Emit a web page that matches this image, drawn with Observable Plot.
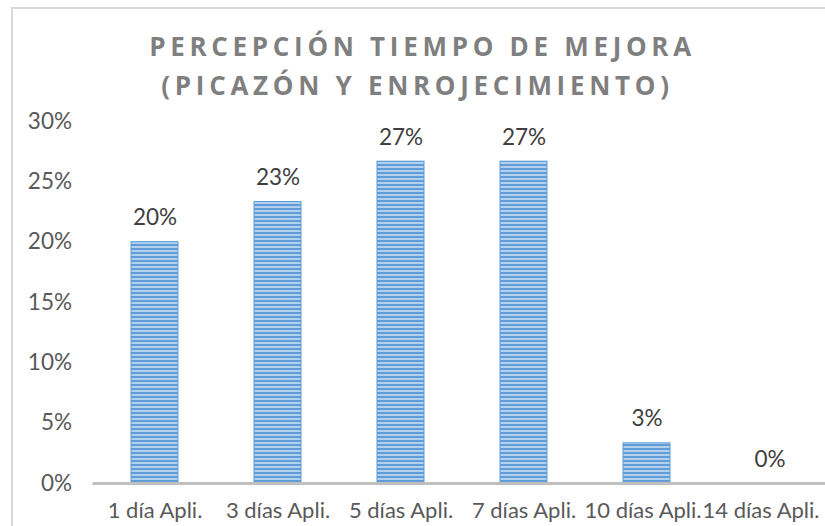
<!DOCTYPE html>
<html>
<head>
<meta charset="utf-8">
<script src="https://cdn.jsdelivr.net/npm/d3@7"></script>
<script src="https://cdn.jsdelivr.net/npm/@observablehq/plot@0.6"></script>
<style>
  html, body { margin: 0; padding: 0; background: #fff; }
  #wrap { position: relative; width: 825px; height: 526px; overflow: hidden; background: #fff; }
  #frame { position: absolute; left: 11px; top: 7px; width: 900px; height: 600px; border-left: 2px solid #d9d9d9; border-top: 2px solid #d9d9d9; box-sizing: border-box; }
  .title { position: absolute; left: 0; width: 845px; text-align: center; font-family: "Open Sans", sans-serif; font-weight: bold; font-size: 26px; line-height: 26px; letter-spacing: 4.7px; color: #7f7f7f; white-space: nowrap; }
  #chart { position: absolute; left: 0; top: 0; }
  #chart svg { max-width: none !important; }
</style>
</head>
<body>
<div id="wrap">
  <div id="frame"></div>
  <div class="title" style="top:33px">PERCEPCIÓN TIEMPO DE MEJORA</div>
  <div class="title" style="top:72px; width:835px">(PICAZÓN Y ENROJECIMIENTO)</div>
  <div id="chart"></div>
</div>
<script>
const categories = ["1 día Apli.", "3 días Apli.", "5 días Apli.", "7 días Apli.", "10 días Apli.", "14 días Apli."];
const values = [0.20, 0.2333, 0.2667, 0.2667, 0.0333, 0.0];
const yTicks = [0, 0.05, 0.10, 0.15, 0.20, 0.25, 0.30];

const data = categories.map((c, i) => ({category: c, value: values[i]}));
const font = "Lato, 'Open Sans', sans-serif";

const plot = Plot.plot({
  width: 840,
  height: 526,
  marginLeft: 92.5,
  marginRight: 9.5,
  marginTop: 121,
  marginBottom: 43,
  style: {fontFamily: font, fontSize: "22.5px", color: "#595959", background: "transparent", overflow: "visible", maxWidth: "none"},
  x: {domain: categories, paddingInner: 0.621, paddingOuter: 0.31, label: null},
  y: {domain: [0, 0.3], label: null},
  marks: [
    Plot.barY(data, {x: "category", y: "value", fill: "url(#stripes)", stroke: "#5f9cd8", strokeWidth: 1}),
    Plot.ruleY([0], {stroke: "#bfbfbf", strokeWidth: 3}),
    Plot.axisY({ticks: yTicks, tickFormat: d3.format(".0%"), tickSize: 0, tickPadding: 21, label: null, fill: "#595959", fontSize: 22.5}),
    Plot.axisX({tickSize: 0, tickPadding: 19, label: null, fill: "#595959", fontSize: 22}),
    Plot.text(data, {x: "category", y: "value", text: d => d3.format(".0%")(d.value), lineAnchor: "bottom", dy: -17, fill: "#404040", fontSize: 22.5})
  ]
});

const svg = d3.select(plot);
const defs = svg.insert("defs", ":first-child");
const pat = defs.append("pattern")
  .attr("id", "stripes")
  .attr("patternUnits", "userSpaceOnUse")
  .attr("width", 8).attr("height", 4);
pat.append("rect").attr("x", 0).attr("y", 0).attr("width", 8).attr("height", 4).attr("fill", "#b3d1ef");
pat.append("rect").attr("x", 0).attr("y", 0).attr("width", 8).attr("height", 2).attr("fill", "#5f9cd8");

// keep the last category labels inside the visible area, as in the reference
const xTickTexts = svg.selectAll("[aria-label='x-axis tick label'] text").nodes();
const n = xTickTexts.length;
if (n >= 2) {
  d3.select(xTickTexts[n - 2]).attr("dx", -4);
  d3.select(xTickTexts[n - 1]).attr("dx", -9);
}

document.getElementById("chart").appendChild(plot);
</script>
</body>
</html>
